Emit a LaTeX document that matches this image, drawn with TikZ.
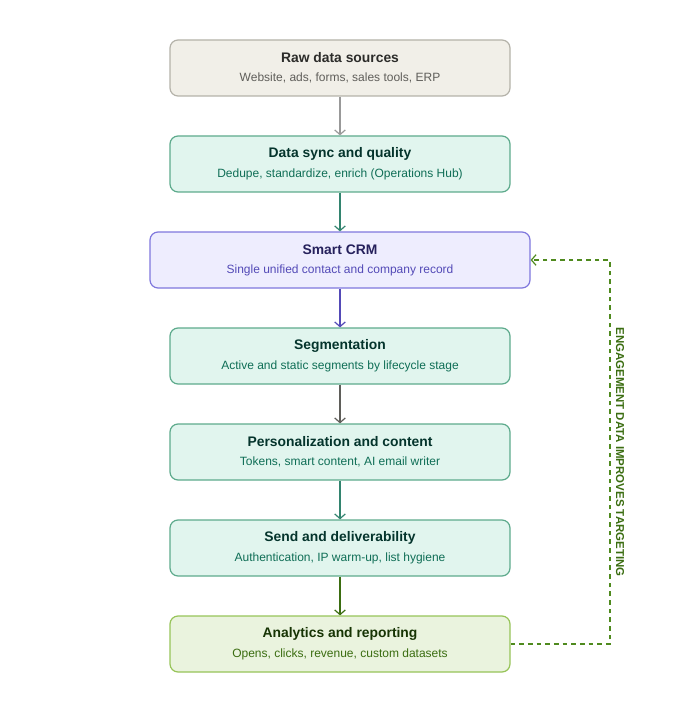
\documentclass[tikz,border=0pt]{standalone}
\usepackage{fontspec}
\setmainfont{Liberation Sans}
\usetikzlibrary{arrows.meta}
\definecolor{grayF}{HTML}{F1EFE8}\definecolor{grayD}{HTML}{B4B2A9}\definecolor{grayT}{HTML}{2C2C2A}\definecolor{grayS}{HTML}{5F5E5A}
\definecolor{tealF}{HTML}{E1F5EE}\definecolor{tealD}{HTML}{5DAA8C}\definecolor{tealT}{HTML}{04342C}\definecolor{tealS}{HTML}{0F6E56}
\definecolor{purF}{HTML}{EEEDFE}\definecolor{purD}{HTML}{7F77DD}\definecolor{purT}{HTML}{26215C}\definecolor{purS}{HTML}{534AB7}
\definecolor{grnF}{HTML}{EAF3DE}\definecolor{grnD}{HTML}{97C459}\definecolor{grnT}{HTML}{173404}\definecolor{grnS}{HTML}{3B6D11}\definecolor{grnL}{HTML}{4F8A1E}
\begin{document}
\begin{tikzpicture}[x=0.75pt,y=-0.75pt,
 box/.style={draw,rounded corners=6pt,line width=0.9pt,minimum height=42pt,inner sep=0pt,align=center},
 arr/.style={-{Straight Barb[length=3.5pt,width=8pt]},line width=0.9pt},
 t/.style={font=\bfseries\fontsize{10.4}{12}\selectfont},
 s/.style={font=\fontsize{9}{11}\selectfont}]
\useasboundingbox (0,0) rectangle (680,720);
\newcommand{\mybox}[8]{%
 \node[box,fill=#2,draw=#3,minimum width=#5pt] (#1) at (340,#4) {};
 \node[t,text=#6] (#1t) at (340,#4-10) {#7};
 \node[s,text=#8] (#1s) at (340,#4+10) {\csname sub#1\endcsname};}
\def\subraw{Website, ads, forms, sales tools, ERP}
\def\subsync{Dedupe, standardize, enrich (Operations Hub)}
\def\subcrm{Single unified contact and company record}
\def\subseg{Active and static segments by lifecycle stage}
\def\subper{Tokens, smart content, AI email writer}
\def\subsend{Authentication, IP warm-up, list hygiene}
\def\subana{Opens, clicks, revenue, custom datasets}
\mybox{raw}{grayF}{grayD}{68}{255}{grayT}{Raw data sources}{grayS}
\mybox{sync}{tealF}{tealD}{164}{255}{tealT}{Data sync and quality}{tealS}
\mybox{crm}{purF}{purD}{260}{285}{purT}{Smart CRM}{purS}
\mybox{seg}{tealF}{tealD}{356}{255}{tealT}{Segmentation}{tealS}
\mybox{per}{tealF}{tealD}{452}{255}{tealT}{Personalization and content}{tealS}
\mybox{send}{tealF}{tealD}{548}{255}{tealT}{Send and deliverability}{tealS}
\mybox{ana}{grnF}{grnD}{644}{255}{grnT}{Analytics and reporting}{grnS}
\draw[arr,draw=gray!80] (raw) -- (sync);
\draw[arr,draw=tealS!85] (sync) -- (crm);
\draw[arr,draw=purS] (crm) -- (seg);
\draw[arr,draw=grayS] (seg) -- (per);
\draw[arr,draw=tealS!85] (per) -- (send);
\draw[arr,draw=grnS] (send) -- (ana);
\coordinate (c1) at (610,644); \coordinate (c2) at (610,260);
\draw[arr,draw=grnL,dashed,dash pattern=on 3.5pt off 3pt] (ana.east) -- (c1) -- (c2) -- (crm.east);
\node[rotate=-90,text=grnS,font=\bfseries\fontsize{8.6}{10}\selectfont] (lab) at (620,452) {ENGAGEMENT DATA IMPROVES TARGETING};
\end{tikzpicture}
\end{document}
